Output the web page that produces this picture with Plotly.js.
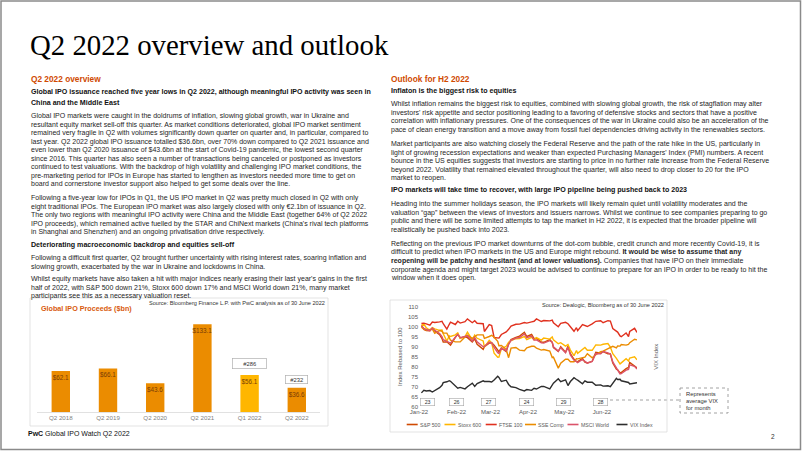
<!DOCTYPE html>
<html><head><meta charset="utf-8">
<script src="https://cdn.plot.ly/plotly-3.0.1.min.js"></script>
<style>html,body{margin:0;padding:0;background:#fff;}#chart{width:802px;height:451px;}</style>
</head><body><div id="chart"></div>
<script>
// ---------- DATA ----------
const ipoQuarters = ['Q2 2018','Q2 2019','Q2 2020','Q2 2021','Q1 2022','Q2 2022'];
const ipoProceeds = [62.1, 66.1, 43.6, 133.1, 56.1, 36.6];
const ipoCounts   = [null, null, null, null, 286, 232];

const dates = [
 '2022-01-03','2022-01-05','2022-01-07','2022-01-10','2022-01-12','2022-01-14','2022-01-18','2022-01-20','2022-01-21','2022-01-24','2022-01-26','2022-01-27','2022-01-31',
 '2022-02-02','2022-02-04','2022-02-08','2022-02-10','2022-02-14','2022-02-16','2022-02-18','2022-02-23','2022-02-24','2022-02-28',
 '2022-03-02','2022-03-04','2022-03-07','2022-03-08','2022-03-10','2022-03-14','2022-03-16','2022-03-18','2022-03-22','2022-03-25','2022-03-29','2022-03-31',
 '2022-04-04','2022-04-06','2022-04-08','2022-04-12','2022-04-14','2022-04-19','2022-04-21','2022-04-22','2022-04-26','2022-04-28',
 '2022-05-02','2022-05-04','2022-05-06','2022-05-09','2022-05-11','2022-05-12','2022-05-16','2022-05-18','2022-05-20','2022-05-24','2022-05-27','2022-05-31',
 '2022-06-02','2022-06-06','2022-06-08','2022-06-10','2022-06-13','2022-06-14','2022-06-16','2022-06-17','2022-06-21','2022-06-23','2022-06-24','2022-06-28','2022-06-30'
];
const sp500 = [
 100.6,98.6,98.1,98.0,99.2,97.8,96.0,94.1,92.3,92.5,91.3,90.8,94.7,
 96.3,94.4,94.9,94.5,92.4,93.9,91.2,88.7,90.0,91.8,
 92.0,90.8,88.1,87.5,89.4,87.6,91.4,93.6,94.7,95.3,97.2,95.1,
 96.1,94.0,94.2,92.3,92.2,93.6,92.2,89.6,87.6,90.0,
 87.2,90.2,86.5,83.7,82.6,82.5,84.1,82.3,81.9,82.7,87.2,86.7,
 87.6,86.5,86.4,81.8,78.7,78.4,76.9,77.1,79.0,79.6,82.1,80.2,79.4
];
const stoxx600 = [
 100.7,101.3,99.5,98.2,99.5,98.9,98.2,98.3,96.5,92.8,95.5,95.1,95.9,
 96.9,94.2,95.1,97.3,93.4,95.8,94.2,92.9,89.8,93.2,
 91.9,86.8,84.7,84.8,89.0,90.2,92.2,93.0,94.0,94.1,95.1,93.5,
 94.7,93.5,94.5,93.3,94.3,93.8,94.9,93.4,91.5,92.0,
 90.3,91.1,88.3,85.5,88.1,86.7,88.4,89.6,88.2,88.2,90.9,90.8,
 91.2,91.6,89.8,86.5,84.2,83.0,81.4,81.9,84.0,82.8,84.3,84.9,83.5
];
const ftse100 = [
 101.6,101.8,101.4,100.8,102.3,102.1,102.4,102.7,101.5,98.8,101.2,102.3,101.1,
 102.7,101.8,102.5,103.9,102.0,103.0,101.7,101.5,97.6,101.0,
 100.6,94.6,94.2,94.3,96.1,97.4,98.7,100.3,101.2,101.3,102.1,101.8,
 102.4,102.7,103.9,102.6,103.1,102.9,103.3,101.9,100.0,101.7,
 102.2,101.5,100.0,97.7,99.5,98.0,101.1,100.7,100.1,101.4,102.7,103.0,
 102.0,103.0,102.8,99.1,97.6,97.3,95.4,95.0,96.9,95.1,97.6,99.2,97.1
];
const sseComp = [
 99.8,98.8,98.3,98.7,98.8,96.7,98.1,97.7,96.8,96.8,94.9,93.3,92.4,
 92.4,92.4,94.9,95.8,94.2,95.2,95.9,95.9,94.2,95.1,
 95.7,94.7,92.7,90.5,90.6,88.6,84.5,89.3,89.6,88.3,88.0,89.4,
 90.2,90.2,89.3,88.3,88.6,87.8,84.6,84.8,79.3,81.7,
 83.7,83.7,82.5,82.5,84.0,83.9,84.5,84.8,86.5,84.4,86.0,87.5,
 87.8,88.9,89.7,90.2,89.4,90.4,90.3,91.1,90.8,91.2,92.0,93.7,93.4
];
const msciWorld = [
 100.5,99.2,98.6,98.0,99.3,98.2,96.6,95.0,93.5,92.6,92.4,91.8,94.7,
 96.2,94.5,95.2,95.4,92.8,94.6,92.4,90.0,90.2,92.2,
 92.0,89.6,87.0,86.6,89.3,88.0,91.2,93.2,94.3,94.6,96.4,94.5,
 95.3,93.3,93.4,91.9,91.8,93.0,92.3,89.9,87.8,89.5,
 87.0,89.8,85.9,83.2,82.6,82.0,83.6,82.6,81.8,82.6,86.6,86.4,
 87.6,86.9,86.3,82.4,79.2,78.7,76.4,76.5,78.3,78.6,80.9,80.2,78.8
];
const vixIndex = [
 16.6,19.7,18.8,19.4,17.6,19.2,22.8,25.6,28.9,29.9,31.2,30.5,24.8,
 22.1,23.2,21.4,23.9,28.3,24.3,27.8,31.0,30.3,30.2,
 29.7,32.0,36.5,35.1,30.2,31.8,26.7,23.9,22.9,20.8,18.9,20.6,
 19.6,22.1,21.2,24.3,24.4,21.4,25.6,28.2,33.5,30.0,
 32.3,25.4,30.2,34.8,32.6,31.8,27.5,31.0,29.4,29.5,25.7,26.2,
 24.7,25.1,24.0,27.8,34.0,32.7,33.0,31.1,30.2,29.1,27.2,28.4,28.7
];
const seriesNames = ['S&P 500','Stoxx 600','FTSE 100','SSE Comp','MSCI World','VIX Index'];
const vixMonthlyAvg = [23, 26, 27, 24, 29, 28];

// ---------- LAYOUT HELPERS ----------
const W = 802, H = 451;
const px = x => x / W, py = y => 1 - y / H;
const SANS = 'Liberation Sans, Arial, sans-serif';
const seriesColors = ['#d04a02','#ffb600','#e0301e','#eb8c00','#db536a','#2d2d2d'];
const barColors = ipoQuarters.map(q => q === 'Q1 2022' ? '#ffb600' : '#eb8c00');

const ann = [];
const shapes = [];
function text(x, y, t, size, color, opts) {
  ann.push(Object.assign({xref:'paper', yref:'paper', x:px(x), y:py(y), xanchor:'left', yanchor:'middle',
    text:t, showarrow:false, align:'left', borderpad:0,
    font:{family:SANS, size:size, color:color}}, opts || {}));
}
function para(x, y0, lines, size, color, step) {
  lines.forEach((t, i) => text(x, y0 + i * step, t, size, color));
}
const BODY = 7.0, BOLD = 7.1, BC = '#1e1e1e', STEP = 8.5, ORANGE = '#d04a02';

// Title
text(29, 45, 'Q2 2022 overview and outlook', 28.8, '#000', {font:{family:'Liberation Serif, Times New Roman, serif', size:28.8, color:'#000'}});

// Left column
text(30, 79, '<b>Q2 2022 overview</b>', 8.3, ORANGE);
para(30, 92, ['<b>Global IPO issuance reached five year lows in Q2 2022, although meaningful IPO activity was seen in</b>',
              '<b>China and the Middle East</b>'], BOLD, '#111', 11);
para(30, 116, [
 'Global IPO markets were caught in the doldrums of inflation, slowing global growth, war in Ukraine and',
 'resultant equity market sell-off this quarter. As market conditions deteriorated, global IPO market sentiment',
 'remained very fragile in Q2 with volumes significantly down quarter on quarter and, in particular, compared to',
 'last year. Q2 2022 global IPO issuance totalled $36.6bn, over 70% down compared to Q2 2021 issuance and',
 'even lower than Q2 2020 issuance of $43.6bn at the start of Covid-19 pandemic, the lowest second quarter',
 'since 2016. This quarter has also seen a number of transactions being canceled or postponed as investors',
 'continued to test valuations. With the backdrop of high volatility and challenging IPO market conditions, the',
 'pre-marketing period for IPOs in Europe has started to lengthen as investors needed more time to get on',
 'board and cornerstone investor support also helped to get some deals over the line.'], BODY, BC, STEP);
para(30, 198, [
 'Following a five-year low for IPOs in Q1, the US IPO market in Q2 was pretty much closed in Q2 with only',
 'eight traditional IPOs. The European IPO market was also largely closed with only €2.1bn of issuance in Q2.',
 'The only two regions with meaningful IPO activity were China and the Middle East (together 64% of Q2 2022',
 'IPO proceeds), which remained active fuelled by the STAR and ChiNext markets (China\'s rival tech platforms',
 'in Shanghai and Shenzhen) and an ongoing privatisation drive respectively.'], BODY, BC, STEP);
text(30, 245, '<b>Deteriorating macroeconomic backdrop and equities sell-off</b>', BOLD, '#111');
para(30, 258, [
 'Following a difficult first quarter, Q2 brought further uncertainty with rising interest rates, soaring inflation and',
 'slowing growth, exacerbated by the war in Ukraine and lockdowns in China.'], BODY, BC, STEP);
para(30, 279, [
 'Whilst equity markets have also taken a hit with major indices nearly erasing their last year\'s gains in the first',
 'half of 2022, with S&P 500 down 21%, Stoxx 600 down 17% and MSCI World down 21%, many market',
 'participants see this as a necessary valuation reset.'], BODY, BC, STEP);

// Right column
text(390, 79, '<b>Outlook for H2 2022</b>', 8.3, ORANGE);
text(390, 91, '<b>Inflaton is the biggest risk to equities</b>', BOLD, '#111');
para(390, 104, [
 'Whilst inflation remains the biggest risk to equities, combined with slowing global growth, the risk of stagflation may alter',
 'investors\' risk appetite and sector positioning leading to a favoring of defensive stocks and sectors that have a positive',
 'correlation with inflationary pressures. One of the consequences of the war in Ukraine could also be an acceleration of the',
 'pace of clean energy transition and a move away from fossil fuel dependencies driving activity in the renewables sectors.'], BODY, BC, STEP);
para(390, 144, [
 'Market participants are also watching closely the Federal Reserve and the path of the rate hike in the US, particularly in',
 'light of growing recession expectations and weaker than expected Purchasing Managers\' Index (PMI) numbers. A recent',
 'bounce in the US equities suggests that investors are starting to price in no further rate increase from the Federal Reserve',
 'beyond 2022. Volatility that remained elevated throughout the quarter, will also need to drop closer to 20 for the IPO',
 'market to reopen.'], BODY, BC, STEP);
text(390, 190, '<b>IPO markets will take time to recover, with large IPO pipeline being pushed back to 2023</b>', BOLD, '#111');
para(390, 204, [
 'Heading into the summer holidays season, the IPO markets will likely remain quiet until volatility moderates and the',
 'valuation \u201cgap\u201d between the views of investors and issuers narrows. Whilst we continue to see companies preparing to go',
 'public and there will be some limited attempts to tap the market in H2 2022, it is expected that the broader pipeline will',
 'realistically be pushed back into 2023.'], BODY, BC, STEP);
para(390, 244, [
 'Reflecting on the previous IPO market downturns of the dot-com bubble, credit crunch and more recently Covid-19, it is',
 'difficult to predict when IPO markets in the US and Europe might rebound. <b>It would be wise to assume that any</b>',
 '<b>reopening will be patchy and hesitant (and at lower valuations).</b> Companies that have IPO on their immediate',
 'corporate agenda and might target 2023 would be advised to continue to prepare for an IPO in order to be ready to hit the',
 'window when it does open.'], BODY, BC, STEP);

// Bar chart extras
text(326, 303, 'Source: Bloomberg Finance L.P. with PwC analysis as of 30 June 2022', 5.6, '#333', {xanchor:'right'});
text(40, 308, '<b>Global IPO Proceeds ($bn)</b>', 7.2, '#d85a0c');
const countStyle = {4:{w:32, h:8, shift:6}, 5:{w:20, h:6, shift:4}};
ipoCounts.forEach((c, i) => {
  if (c === null) return;
  const s = countStyle[i];
  ann.push({xref:'x', yref:'y', x:ipoQuarters[i], y:ipoProceeds[i], yanchor:'bottom', yshift:s.shift,
    text:'#' + c, showarrow:false, bgcolor:'#fff', bordercolor:'#b0b0b0', borderwidth:0.7, borderpad:1,
    width:s.w, height:s.h, font:{family:SANS, size:5.8, color:'#333'}});
});

// Line chart extras
text(665, 305, 'Source: Dealogic, Bloomberg as of 30 June 2022', 5.6, '#333', {xanchor:'right'});
const vixBoxX = [427.7, 456.7, 488.3, 526.7, 563.3, 600];
vixMonthlyAvg.forEach((v, i) => {
  ann.push({xref:'paper', yref:'paper', x:px(vixBoxX[i]), y:py(401.5), xanchor:'center', yanchor:'middle',
    text:String(v), showarrow:false, bgcolor:'#fff', bordercolor:'#a6a6a6', borderwidth:0.6, borderpad:0.5,
    width:13, height:6, font:{family:SANS, size:5.3, color:'#333'}});
});
para(685, 393.5, ['Represents', 'average VIX', 'for month'], 5.8, '#333', 7.3);
shapes.push({type:'line', xref:'paper', yref:'paper', x0:px(610), x1:px(680), y0:py(400), y1:py(400),
  line:{color:'#8c8c8c', width:0.8, dash:'dot'}});
shapes.push({type:'rect', xref:'paper', yref:'paper', x0:px(680), x1:px(728), y0:py(388), y1:py(413),
  line:{color:'#8c8c8c', width:0.8, dash:'dot'}});
// manual legend
const legX = [406.7, 444.5, 485.7, 525, 567.5, 616.5];
seriesNames.forEach((n, i) => {
  shapes.push({type:'line', xref:'paper', yref:'paper', x0:px(legX[i]), x1:px(legX[i] + 11), y0:py(424.5), y1:py(424.5),
    line:{color:seriesColors[i], width:1.6}});
  text(legX[i] + 12, 424.5, n, 5.2, '#595959');
});

// Footer & page number
text(27, 433.5, '<b>PwC</b> Global IPO Watch Q2 2022', 7, '#111');
text(770, 436, '2', 6.5, '#333');

// Frames
shapes.push({type:'rect', xref:'paper', yref:'paper', x0:px(1), x1:px(800.5), y0:py(1), y1:py(449.5), line:{color:'#8a8a8a', width:1.5}});
shapes.push({type:'rect', xref:'paper', yref:'paper', x0:px(30), x1:px(328), y0:py(298), y1:py(426), line:{color:'#dcdcdc', width:0.8}});
shapes.push({type:'rect', xref:'paper', yref:'paper', x0:px(390), x1:px(667), y0:py(300), y1:py(432), line:{color:'#dcdcdc', width:0.8}});

// ---------- TRACES ----------
const traces = [];
traces.push({type:'bar', x:ipoQuarters, y:ipoProceeds, xaxis:'x', yaxis:'y',
  marker:{color:barColors, line:{width:0}},
  text:ipoProceeds.map(v => '$' + v.toFixed(1)), textposition:'inside', insidetextanchor:'end',
  textangle:0, constraintext:'none', textfont:{family:SANS, size:6.3, color:'#7a3d06'},
  hoverinfo:'skip', showlegend:false});
const idx = [sp500, stoxx600, ftse100, sseComp, msciWorld];
idx.forEach((s, i) => traces.push({type:'scatter', mode:'lines', x:dates, y:s, xaxis:'x2', yaxis:'y2',
  name:seriesNames[i], line:{color:seriesColors[i], width:1.4}, showlegend:false, hoverinfo:'skip'}));
traces.push({type:'scatter', mode:'lines', x:dates, y:vixIndex, xaxis:'x2', yaxis:'y3',
  name:seriesNames[5], line:{color:seriesColors[5], width:1.4}, showlegend:false, hoverinfo:'skip'});

const layout = {
  width:W, height:H, margin:{l:0, r:0, t:0, b:0}, paper_bgcolor:'#fff', plot_bgcolor:'rgba(0,0,0,0)',
  showlegend:false, bargap:0.61, font:{family:SANS},
  xaxis:{domain:[px(37.2), px(320.4)], anchor:'y', type:'category', showline:true, linecolor:'#d9d9d9', linewidth:0.8,
    ticks:'', tickfont:{size:6.2, color:'#7f7f7f'}, showgrid:false, zeroline:false, fixedrange:true},
  yaxis:{domain:[py(412), py(319.7)], anchor:'x', range:[0, 140], visible:false, fixedrange:true},
  xaxis2:{domain:[px(419), px(637)], anchor:'y2', type:'date', range:['2022-01-01', '2022-06-30'],
    tick0:'2022-01-01', dtick:'M1', tickformat:'%b-%y', ticks:'', showgrid:false, showline:false, zeroline:false,
    tickfont:{size:6, color:'#595959'}, fixedrange:true},
  yaxis2:{domain:[py(406.7), py(306.7)], anchor:'x2', range:[60, 110], dtick:5, ticks:'', showgrid:false,
    showline:false, zeroline:false, tickfont:{size:6, color:'#595959'}, fixedrange:true,
    title:{text:'Index Rebased to 100', font:{size:6, color:'#595959'}, standoff:4}},
  yaxis3:{overlaying:'y2', anchor:'x2', side:'right', range:[0, 120], showticklabels:false, showgrid:false,
    zeroline:false, showline:false, ticks:'', fixedrange:true,
    title:{text:'VIX Index', font:{size:6, color:'#595959'}, standoff:16}},
  annotations:ann, shapes:shapes
};
Plotly.newPlot('chart', traces, layout, {staticPlot:true, displayModeBar:false});
</script></body></html>
